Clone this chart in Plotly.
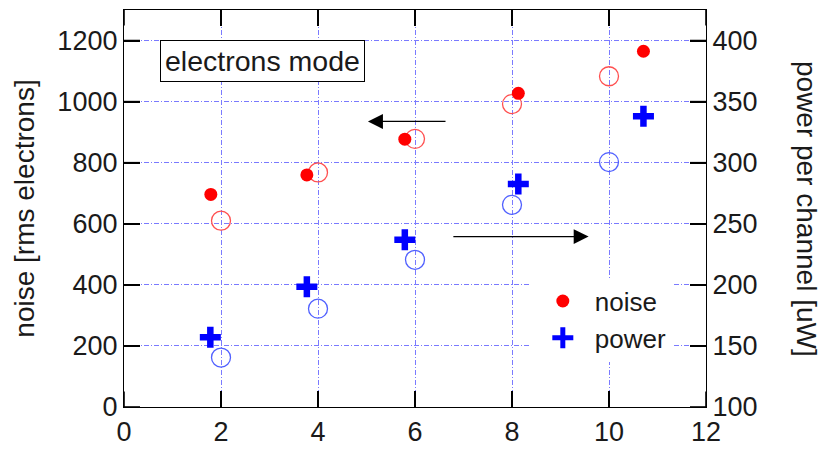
import plotly.graph_objects as go

# ---- data ----
noise_x = [1.79, 3.77, 5.79, 8.13, 10.71]
noise_y = [696, 760, 877, 1027, 1165]          # rms electrons (left axis)
noise_ref_x = [2, 4, 6, 8, 10]
noise_ref_y = [610, 768, 878, 992, 1083]       # open red circles (left axis)
power_x = [1.78, 3.77, 5.79, 8.13, 10.71]
power_y = [157, 198.5, 237, 282.5, 338]        # uW (right axis)
power_ref_x = [2, 4, 6, 8, 10]
power_ref_y = [140.5, 180.5, 220.5, 265.5, 300.5]  # open blue circles (right axis)

x_ticks = [0, 2, 4, 6, 8, 10, 12]
left_ticks = [0, 200, 400, 600, 800, 1000, 1200]
right_ticks = [100, 150, 200, 250, 300, 350, 400]

FONT = "Liberation Sans, Arial, Helvetica, sans-serif"
TXT = "#1a1a1a"
GRID = "#7a7aff"
TICKLEN = 16

W, H = 823, 456
ML, MR, MT, MB = 124, 117, 9, 39
XR = [0, 12]
YR = [0, 1300]
Y2R = [100, 425]
PW, PH = W - ML - MR, H - MT - MB

fig = go.Figure()

fig.add_trace(go.Scatter(x=noise_ref_x, y=noise_ref_y, mode="markers", showlegend=False,
                         marker=dict(symbol="circle-open", size=19, color="#ff5050",
                                     line=dict(width=1.3, color="#ff5050")), yaxis="y"))
fig.add_trace(go.Scatter(x=power_ref_x, y=power_ref_y, mode="markers", showlegend=False,
                         marker=dict(symbol="circle-open", size=19, color="#5060ff",
                                     line=dict(width=1.3, color="#5060ff")), yaxis="y2"))
fig.add_trace(go.Scatter(x=noise_x, y=noise_y, mode="markers", name="noise",
                         marker=dict(symbol="circle", size=13, color="#ff0000"), yaxis="y"))
fig.add_trace(go.Scatter(x=power_x, y=power_y, mode="markers", name="power",
                         marker=dict(symbol="cross-thin", size=15, color="#0000ff",
                                     line=dict(width=6.5, color="#0000ff")), yaxis="y2"))

axis_common = dict(showline=True, linecolor="black", linewidth=1.3,
                   ticks="inside", ticklen=TICKLEN, tickwidth=1.5, tickcolor="black",
                   tickfont=dict(family=FONT, size=27, color=TXT), zeroline=False,
                   layer="above traces")

fig.update_layout(
    width=W, height=H,
    margin=dict(l=ML, r=MR, t=MT, b=MB),
    paper_bgcolor="white", plot_bgcolor="white",
    font=dict(family=FONT, color=TXT),
    xaxis=dict(range=XR, tickmode="array", tickvals=x_ticks, mirror="ticks",
               showgrid=True, gridcolor=GRID, gridwidth=0.9, griddash="5px,2px,1px,2px",
               **axis_common),
    yaxis=dict(range=YR, tickmode="array", tickvals=left_ticks,
               showgrid=True, gridcolor=GRID, gridwidth=0.9, griddash="5px,2px,1px,2px",
               title=dict(text="noise [rms electrons]", font=dict(family=FONT, size=28, color=TXT),
                          standoff=14),
               **axis_common),
    yaxis2=dict(range=Y2R, tickmode="array", tickvals=right_ticks, overlaying="y",
                side="right", showgrid=False, **axis_common),
    legend=dict(x=0.699, y=0.326, xanchor="left", yanchor="top", bgcolor="white",
                borderwidth=0, font=dict(family=FONT, size=26, color=TXT),
                itemwidth=54, tracegroupgap=0),
    showlegend=True,
)

# explicit inside tick marks (black), drawn above the grid, in data units
tick_line = dict(color="black", width=1.6)
dy = (YR[1] - YR[0]) * TICKLEN / PH
dx = (XR[1] - XR[0]) * TICKLEN / PW
for v in x_ticks:
    fig.add_shape(type="line", xref="x", yref="y", x0=v, x1=v, y0=YR[0], y1=YR[0] + dy,
                  line=tick_line, layer="above")
    fig.add_shape(type="line", xref="x", yref="y", x0=v, x1=v, y0=YR[1], y1=YR[1] - dy,
                  line=tick_line, layer="above")
for v in left_ticks:
    fig.add_shape(type="line", xref="x", yref="y", y0=v, y1=v, x0=XR[0], x1=XR[0] + dx,
                  line=tick_line, layer="above")
for v in right_ticks:
    fig.add_shape(type="line", xref="x", yref="y2", y0=v, y1=v, x0=XR[1], x1=XR[1] - dx,
                  line=tick_line, layer="above")

# right axis title, reading top-to-bottom
fig.add_annotation(text="power per channel [uW]", xref="paper", yref="paper",
                   x=1.0, xshift=118, y=0.5, textangle=90, showarrow=False,
                   font=dict(family=FONT, size=28, color=TXT))

# boxed label
fig.add_annotation(text="electrons mode", x=2.86, y=1132, xref="x", yref="y", showarrow=False,
                   bgcolor="white", bordercolor="black", borderwidth=1, borderpad=4,
                   font=dict(family=FONT, size=28.5, color=TXT))

# arrows indicating axes
fig.add_annotation(x=5.03, y=935, ax=6.66, ay=935, xref="x", yref="y", axref="x", ayref="y",
                   text="", showarrow=True, arrowhead=2, arrowsize=2.3, arrowwidth=1.3,
                   arrowcolor="black")
fig.add_annotation(x=9.58, y=558, ax=6.76, ay=558, xref="x", yref="y", axref="x", ayref="y",
                   text="", showarrow=True, arrowhead=2, arrowsize=2.3, arrowwidth=1.3,
                   arrowcolor="black")

fig.write_html("out.html")
